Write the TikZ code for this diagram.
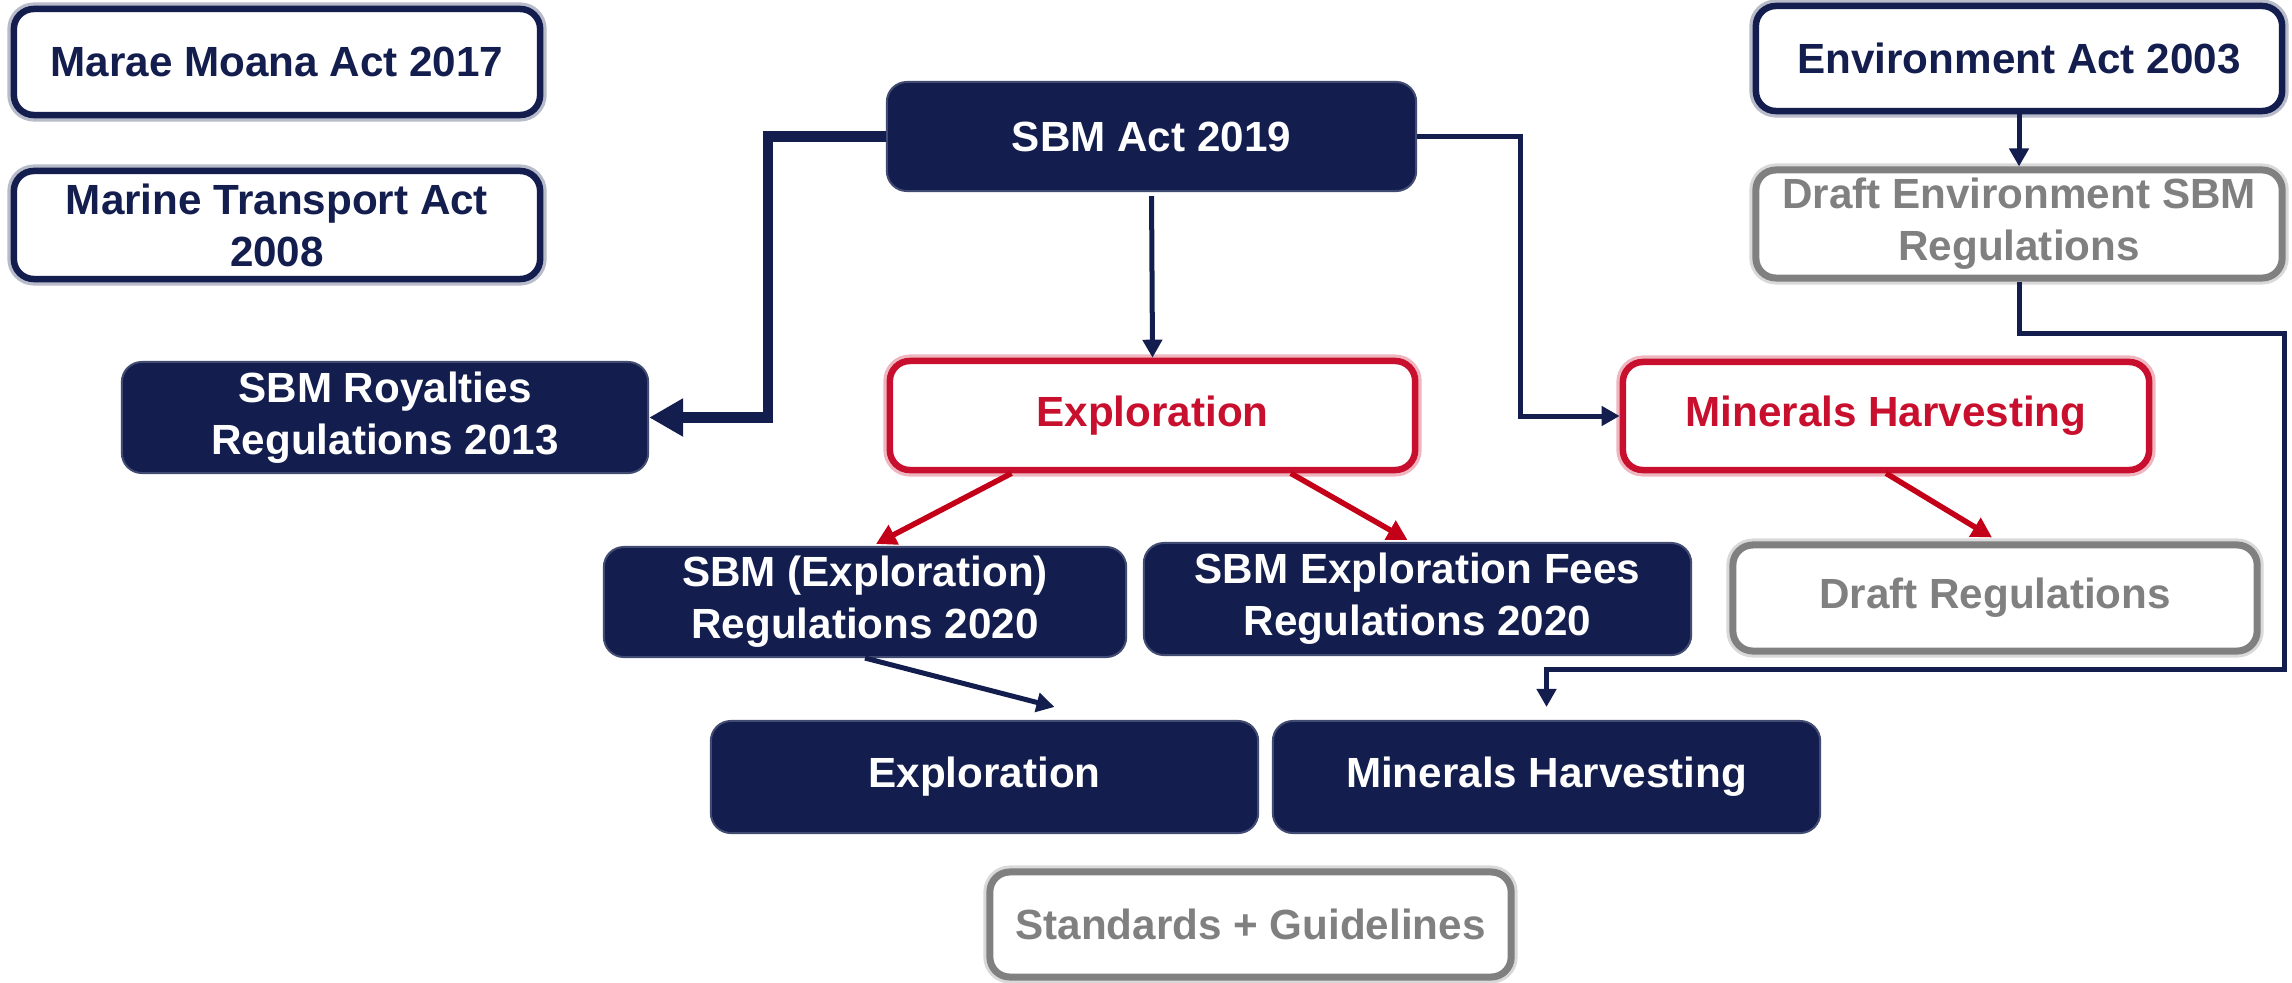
\documentclass[tikz,border=0pt]{standalone}
\usepackage{fontspec}
\setmainfont{Liberation Sans}
\usetikzlibrary{arrows.meta,calc}
\definecolor{navy}{RGB}{19,30,78}
\definecolor{crim}{RGB}{200,16,46}
\definecolor{redline}{RGB}{196,0,24}
\definecolor{gry}{RGB}{128,128,128}
\tikzset{
  base/.style={rounded corners=0.2cm, align=center, inner sep=0pt,
    font=\bfseries\fontsize{12}{14.8}\selectfont},
  navybox/.style={base, fill=navy, text=white, draw=navy!80, line width=0.02cm},
  outbox/.style={base, fill=white, draw=navy, text=navy, line width=0.065cm,
    preaction={draw=navy, fill=none, line width=0.13cm, opacity=0.3}},
  redbox/.style={base, fill=white, draw=crim, text=crim, line width=0.065cm,
    preaction={draw=crim, fill=none, line width=0.13cm, opacity=0.3}},
  graybox/.style={base, fill=white, draw=gry, text=gry, line width=0.07cm,
    preaction={draw=gry, fill=none, line width=0.13cm, opacity=0.3}},
  conn/.style={draw=navy, line width=0.05cm, -{Triangle[length=0.18cm,width=0.19cm]}},
  thickconn/.style={draw=navy, line width=0.105cm, -{Triangle[length=0.34cm,width=0.36cm]}},
  redconn/.style={draw=redline, line width=0.055cm, -{Triangle[length=0.2cm,width=0.21cm]}},
}
\begin{document}
\begin{tikzpicture}[x=0.01cm,y=-0.01cm]
\useasboundingbox (0,0) rectangle (2292,982);
% nodes
\node[outbox, minimum width=5.26cm, minimum height=1.06cm] (marae) at (277,62) {Marae Moana Act 2017};
\node[outbox, minimum width=5.26cm, minimum height=1.08cm] (marine) at (277,225) {Marine Transport Act\\2008};
\node[navybox, minimum width=5.29cm, minimum height=1.09cm] (sbm) at (1151.5,136.5) {SBM Act 2019};
\node[outbox, minimum width=5.26cm, minimum height=1.05cm] (env) at (2019,58.5) {Environment Act 2003};
\node[graybox, minimum width=5.26cm, minimum height=1.08cm] (denv) at (2019,224) {Draft Environment SBM\\Regulations};
\node[navybox, minimum width=5.26cm, minimum height=1.11cm] (roy) at (385,417.5) {SBM Royalties\\Regulations 2013};
\node[redbox, minimum width=5.25cm, minimum height=1.09cm] (expl) at (1152.5,415.5) {Exploration};
\node[redbox, minimum width=5.26cm, minimum height=1.08cm] (minr) at (1886,416) {Minerals Harvesting};
\node[navybox, minimum width=5.22cm, minimum height=1.10cm] (sreg) at (865,602) {SBM (Exploration)\\Regulations 2020};
\node[navybox, minimum width=5.47cm, minimum height=1.12cm] (fees) at (1417.5,599) {SBM Exploration Fees\\Regulations 2020};
\node[graybox, minimum width=5.24cm, minimum height=1.06cm] (dreg) at (1995,598) {Draft Regulations};
\node[navybox, minimum width=5.47cm, minimum height=1.12cm] (expb) at (984.5,777) {Exploration};
\node[navybox, minimum width=5.47cm, minimum height=1.12cm] (minb) at (1546.5,777) {Minerals Harvesting};
\node[graybox, minimum width=5.21cm, minimum height=1.05cm] (stan) at (1250.5,924.5) {Standards + Guidelines};
% helper coordinates
\coordinate (c1) at (2284,333);
\coordinate (c2) at (2284,669);
% connectors
\draw[thickconn] (sbm.west) -- ++(-118,0) |- (roy.east);
\draw[conn, shorten <=0.04cm] (sbm.south) -- (expl.north);
\draw[conn] (sbm.east) -- ++(103,0) |- (minr.west);
\draw[conn] (env.south) -- (denv.north);
\draw[conn, shorten >=0.13cm] (denv.south) |- (c1) -- (c2) -| (minb.north);
\draw[redconn] ($(expl.south west)!0.235!(expl.south east)$) -- ($(sreg.north)+(11,-2)$);
\draw[redconn] ($(expl.south west)!0.76!(expl.south east)$) -- ($(fees.north)+(-10,-2)$);
\draw[redconn] (minr.south) -- ($(dreg.north)+(-3,-4)$);
\draw[conn] (sreg.south) -- ($(expb.north)+(70,-13)$);
\end{tikzpicture}
\end{document}
